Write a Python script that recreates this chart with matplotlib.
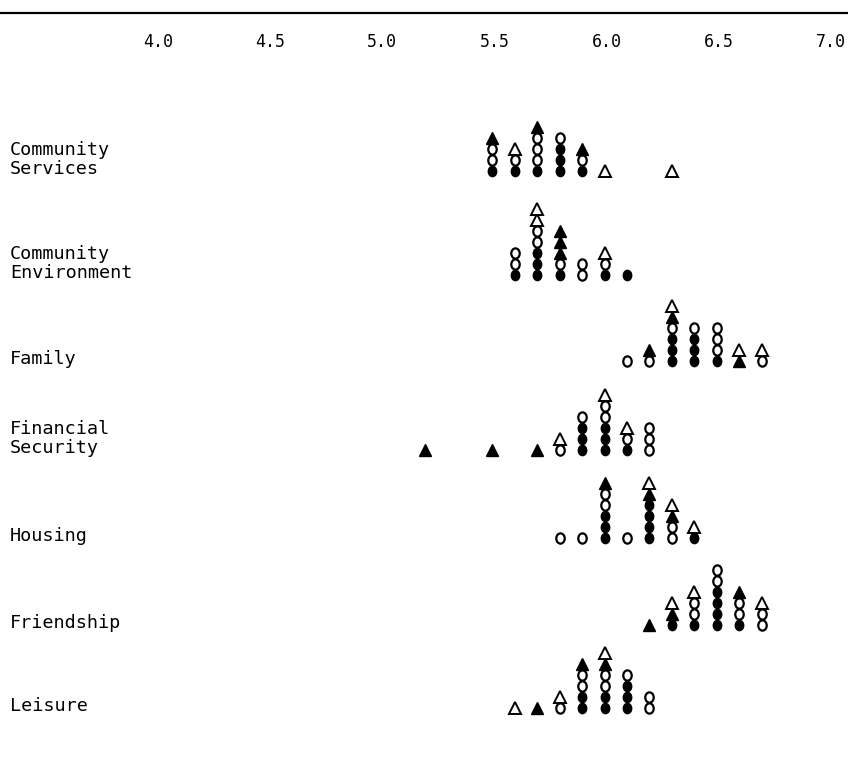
import matplotlib
matplotlib.use("Agg")
import matplotlib.pyplot as plt
from matplotlib import transforms
from matplotlib.path import Path
from matplotlib.transforms import Affine2D

# scale printed along the top
scale_ticks = [4.0, 4.5, 5.0, 5.5, 6.0, 6.5, 7.0]

# domains, top to bottom
domains = ["Community\nServices", "Community\nEnvironment", "Family",
           "Financial\nSecurity", "Housing", "Friendship", "Leisure"]

# stacks read bottom-up: F filled circle, O open circle, T filled triangle, D open triangle
services_x = [5.5, 5.6, 5.7, 5.8, 5.9, 6.0, 6.3]
services_stack = ["FOOT", "FOD", "FOOOT", "FFFO", "FOT", "D", "D"]

environment_x = [5.6, 5.7, 5.8, 5.9, 6.0, 6.1]
environment_stack = ["FOO", "FFFOODD", "FOTTT", "OO", "FOD", "F"]

family_x = [6.1, 6.2, 6.3, 6.4, 6.5, 6.6, 6.7]
family_stack = ["O", "OT", "FFFOTD", "FFFO", "FOOO", "TD", "OD"]

financial_x = [5.2, 5.5, 5.7, 5.8, 5.9, 6.0, 6.1, 6.2]
financial_stack = ["T", "T", "T", "OD", "FFFO", "FFFOOD", "FOD", "OOO"]

housing_x = [5.8, 5.9, 6.0, 6.1, 6.2, 6.3, 6.4]
housing_stack = ["O", "O", "FFFOOT", "O", "FFFFTD", "OOTD", "FD"]

friendship_x = [6.2, 6.3, 6.4, 6.5, 6.6, 6.7]
friendship_stack = ["T", "FTD", "FOOD", "FFFFOO", "FOOT", "OOD"]

leisure_x = [5.6, 5.7, 5.8, 5.9, 6.0, 6.1, 6.2]
leisure_stack = ["D", "T", "OD", "FFOOT", "FFOOTD", "FFFO", "OO"]

rows = [(services_x, services_stack), (environment_x, environment_stack),
        (family_x, family_stack), (financial_x, financial_stack),
        (housing_x, housing_stack), (friendship_x, friendship_stack),
        (leisure_x, leisure_stack)]

# layout (pixel rows, y grows downward)
row_base = [171, 275, 361, 450, 538, 625, 708]
step = 11

# typewriter-ish circles are a little taller than wide
oval = Path.unit_circle().transformed(Affine2D().scale(0.82, 1.0))

styles = {
    "F": dict(marker=oval, ms=7.4, mfc="black", mec="black", mew=1.0),
    "O": dict(marker=oval, ms=7.4, mfc="white", mec="black", mew=1.6),
    "T": dict(marker="^", ms=8.0, mfc="black", mec="black", mew=1.0),
    "D": dict(marker="^", ms=8.0, mfc="white", mec="black", mew=1.4),
}

W, H = 848, 763
fig = plt.figure(figsize=(W / 100, H / 100), dpi=100)
ax = fig.add_axes([0, 0, 1, 1])
ax.set_xlim(3.3073, 3.3073 + W / 224.5)
ax.set_ylim(H, 0)
ax.axis("off")

mono = "DejaVu Sans Mono"

ax.axhline(12.5, color="black", lw=1.6)
for t in scale_ticks:
    ax.text(t + 0.01, 42, f"{t:.1f}", ha="center", va="center", fontsize=12, family=mono)

lab = transforms.blended_transform_factory(ax.transAxes, ax.transData)
for name, base, (xs, stacks) in zip(domains, row_base, rows):
    lines = name.split("\n")
    for k, line in enumerate(reversed(lines)):
        ax.text(10 / W, base - 2 - 19 * k, line, transform=lab, ha="left",
                va="center", fontsize=13.3, family=mono)
    for x, stack in zip(xs, stacks):
        for k, code in enumerate(stack):
            ax.plot([x], [base - step * k], linestyle="none", zorder=3 + k,
                    **styles[code])

fig.savefig("out.png", dpi=100)
